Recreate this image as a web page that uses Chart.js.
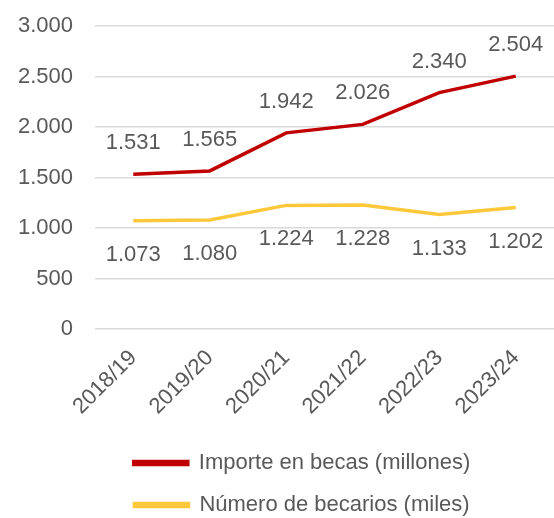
<!DOCTYPE html>
<html>
<head>
<meta charset="utf-8">
<script src="https://cdn.jsdelivr.net/npm/chart.js@4"></script>
<style>
  html, body { margin: 0; padding: 0; background: #fff; }
  #wrap { width: 554px; height: 518px; position: relative; }
</style>
</head>
<body>
<div id="wrap"><canvas id="grafico"></canvas></div>
<script>
// Datos del gráfico
var cursos = ['2018/19', '2019/20', '2020/21', '2021/22', '2022/23', '2023/24'];
var importeBecas = [1531, 1565, 1942, 2026, 2340, 2504];
var numeroBecarios = [1073, 1080, 1224, 1228, 1133, 1202];

var gris = '#595959';
var fuente = "'Liberation Sans', Arial, sans-serif";

// Formato con punto de miles
function formato(n) {
    return String(n).replace(/\B(?=(\d{3})+(?!\d))/g, '.');
}

// Etiquetas de datos: la serie roja arriba, la amarilla abajo
var etiquetas = {
    id: 'etiquetas',
    afterLayout: function (chart) {
        // la leyenda va un poco desplazada hacia la derecha
        chart.legend.left += 25;
        chart.legend.right += 25;
    },
    afterDatasetsDraw: function (chart) {
        var ctx = chart.ctx;
        ctx.save();
        ctx.font = '22px ' + fuente;
        ctx.fillStyle = gris;
        ctx.textAlign = 'center';
        ctx.textBaseline = 'middle';
        chart.data.datasets.forEach(function (ds, i) {
            var meta = chart.getDatasetMeta(i);
            meta.data.forEach(function (p, j) {
                var dy = ds.posicion === 'arriba' ? -31 : 34;
                ctx.fillText(formato(ds.data[j]), p.x, p.y + dy);
            });
        });
        ctx.restore();
    }
};

var ctx = document.getElementById('grafico').getContext('2d');
var grafico = new Chart(ctx, {
    type: 'line',
    data: {
        labels: cursos,
        datasets: [{
            label: 'Importe en becas (millones)',
            data: importeBecas,
            borderColor: '#C00000',
            backgroundColor: '#C00000',
            borderWidth: 3.5,
            pointRadius: 0,
            tension: 0,
            posicion: 'arriba'
        }, {
            label: 'Número de becarios (miles)',
            data: numeroBecarios,
            borderColor: '#FFC83A',
            backgroundColor: '#FFC83A',
            borderWidth: 3.5,
            pointRadius: 0,
            tension: 0,
            posicion: 'abajo'
        }]
    },
    options: {
        responsive: true,
        maintainAspectRatio: false,
        animation: false,
        layout: { padding: { top: 26, left: 0, right: 0, bottom: -8 } },
        plugins: {
            tooltip: { enabled: false },
            legend: {
                position: 'bottom',
                labels: {
                    color: gris,
                    font: { family: fuente, size: 22 },
                    boxWidth: 54,
                    boxHeight: 3,
                    padding: 20
                }
            }
        },
        scales: {
            x: {
                offset: true,
                grid: { display: false },
                border: { display: false },
                ticks: {
                    color: gris,
                    font: { family: fuente, size: 22 },
                    maxRotation: 45,
                    minRotation: 45,
                    padding: 8
                },
                afterFit: function (s) {
                    s.paddingLeft = 0;
                    s.paddingRight = 0;
                    s.height = 103;
                }
            },
            y: {
                min: 0,
                max: 3000,
                grid: { color: '#D9D9D9', lineWidth: 1.5, drawTicks: false },
                border: { display: false },
                ticks: {
                    stepSize: 500,
                    color: gris,
                    font: { family: fuente, size: 22 },
                    padding: 22,
                    callback: function (v) { return formato(v); }
                },
                afterFit: function (s) {
                    s.paddingTop = 0;
                    s.paddingBottom = 0;
                    s.width = 95;
                }
            }
        }
    },
    plugins: [etiquetas]
});
</script>
</body>
</html>
